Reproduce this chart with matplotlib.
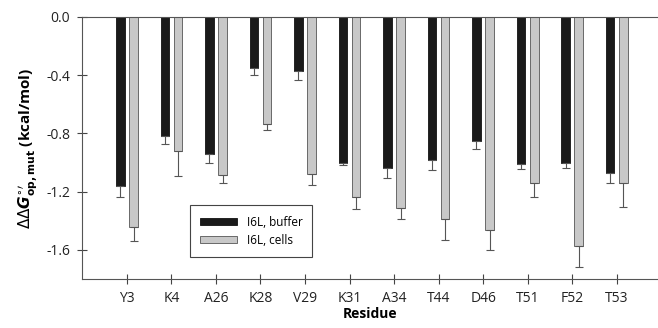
import matplotlib.pyplot as plt
import numpy as np

plt.rcParams['font.family'] = ['Open Sans', 'DejaVu Sans']
plt.rcParams['mathtext.fontset'] = 'dejavusans'

residues = ['Y3', 'K4', 'A26', 'K28', 'V29', 'K31', 'A34', 'T44', 'D46', 'T51', 'F52', 'T53']
buffer_vals = [-1.16, -0.82, -0.94, -0.35, -0.37, -1.00, -1.04, -0.98, -0.85, -1.01, -1.00, -1.07]
buffer_err = [0.08, 0.05, 0.06, 0.05, 0.06, 0.02, 0.065, 0.07, 0.06, 0.035, 0.035, 0.07]
cells_vals = [-1.44, -0.92, -1.085, -0.735, -1.08, -1.24, -1.315, -1.385, -1.465, -1.14, -1.57, -1.14]
cells_err = [0.10, 0.17, 0.055, 0.04, 0.075, 0.08, 0.075, 0.145, 0.135, 0.10, 0.145, 0.165]

fig = plt.figure(figsize=(6.58, 3.28), dpi=100)
ax = fig.add_axes([82/658, 49/328, 576/658, 262/328])

x = np.arange(len(residues))
w = 0.195
off = 0.148
ekw = dict(ecolor='#555555', elinewidth=0.8, capsize=3, capthick=0.8)
ax.bar(x - off, buffer_vals, w, color='#1a1a1a', edgecolor='#111111', linewidth=0.6,
       yerr=[np.array(buffer_err), np.zeros(len(x))], error_kw=ekw, label='I6L, buffer')
ax.bar(x + off, cells_vals, w, color='#c8c8c8', edgecolor='#555555', linewidth=0.6,
       yerr=[np.array(cells_err), np.zeros(len(x))], error_kw=ekw, label='I6L, cells')

ax.set_xlim(-1.01, 11.93)
ax.set_ylim(-1.8, 0)
ax.set_xticks(x)
ax.set_xticklabels(residues)
ax.set_yticks([0, -0.4, -0.8, -1.2, -1.6])
ax.set_yticklabels(['0.0', '-0.4', '-0.8', '-1.2', '-1.6'])
ax.tick_params(direction='inout', length=7, width=0.8, color='#444444', labelsize=10,
               labelcolor='#222222', pad=5)
for s in ['left', 'bottom', 'top']:
    ax.spines[s].set_color('#555555')
    ax.spines[s].set_linewidth(0.8)
ax.spines['right'].set_visible(False)

ax.set_xlabel('Residue', fontsize=10, fontweight='bold', labelpad=1)
ax.set_ylabel(r"$\Delta\Delta \mathbfit{G}^{\circ\prime}_{\mathbf{op,mut}}$ (kcal/mol)",
              fontsize=11, fontweight='bold', labelpad=5)

leg = ax.legend(loc='lower left', bbox_to_anchor=(0.178, 0.062), fontsize=8.5,
                fancybox=False, edgecolor='#444444', framealpha=1,
                handlelength=3.1, handleheight=0.6, borderpad=0.85, labelspacing=0.45)
leg.get_frame().set_linewidth(0.8)

fig.savefig('out.png', dpi=100)
